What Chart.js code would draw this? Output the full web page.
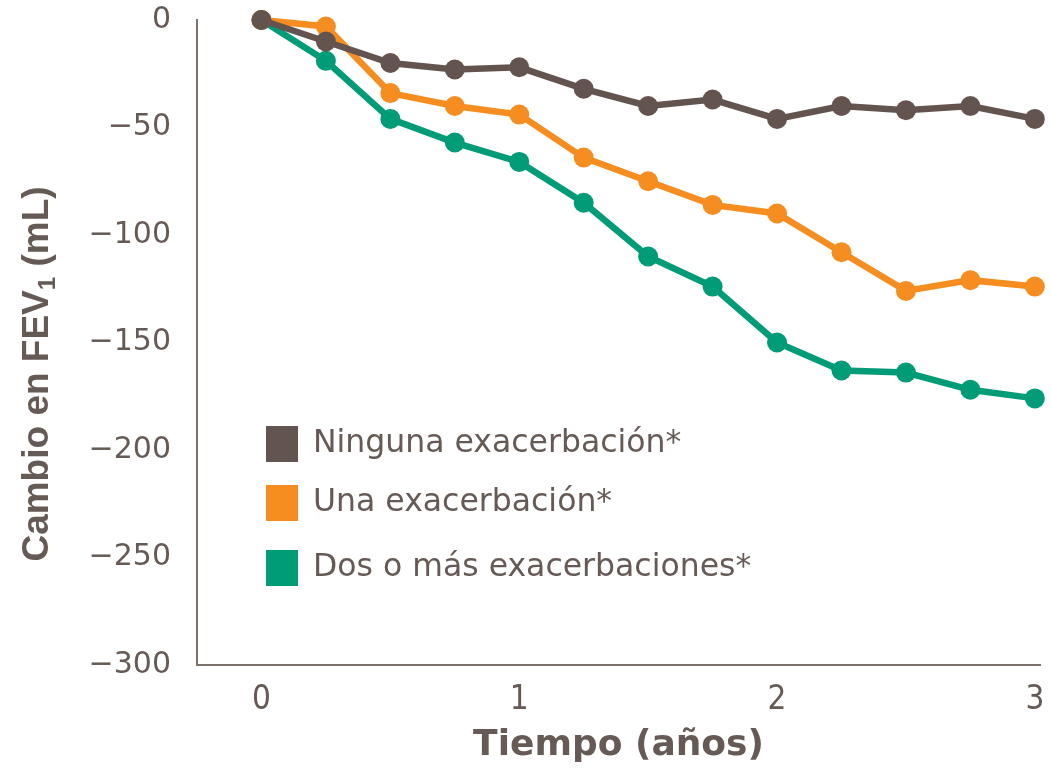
<!DOCTYPE html>
<html>
<head>
<meta charset="utf-8">
<script src="https://cdn.jsdelivr.net/npm/chart.js@4"></script>
<style>
  html, body { margin: 0; padding: 0; background: #fff; }
  #wrap { width: 1051px; height: 769px; position: relative; }
</style>
</head>
<body>
<div id="wrap"><canvas id="fevChart" width="1051" height="769"></canvas></div>
<script>
// years since baseline
const years = [0, 0.25, 0.5, 0.75, 1, 1.25, 1.5, 1.75, 2, 2.25, 2.5, 2.75, 3];

const ninguna = [0, -10, -20, -23, -22, -32, -40, -37, -46, -40, -42, -40, -46];
const una = [0, -3, -34, -40, -44, -64, -75, -86, -90, -108, -126, -121, -124];
const dosOMas = [0, -19, -46, -57, -66, -85, -110, -124, -150, -163, -164, -172, -176];

const seriesLabels = ["Ninguna exacerbación*", "Una exacerbación*", "Dos o más exacerbaciones*"];
const seriesColors = ["#63544f", "#f68d20", "#009b77"];
const yTicks = [-300, -250, -200, -150, -100, -50, 0];
const xTicks = [0, 1, 2, 3];

const textColor = "#655a55";
const axisColor = "#7d716b";

function toPoints(vals) {
  return years.map((x, i) => ({ x: x, y: vals[i] }));
}

const allSeries = [ninguna, una, dosOMas];
const datasets = allSeries.map((vals, i) => ({
  label: seriesLabels[i],
  data: toPoints(vals),
  borderColor: seriesColors[i],
  backgroundColor: seriesColors[i],
  pointBackgroundColor: seriesColors[i],
  pointBorderWidth: 0,
  borderWidth: 6.5,
  pointRadius: 10,
  tension: 0,
  clip: false
}));

// legend inside the plot + y title with subscript 1
const extras = {
  id: "extras",
  afterDatasetsDraw(chart) {
    const ctx = chart.ctx;
    const rows = [444, 503, 568];
    ctx.save();
    ctx.font = "31.5px 'DejaVu Sans'";
    ctx.textBaseline = "middle";
    seriesLabels.forEach((lab, i) => {
      ctx.fillStyle = seriesColors[i];
      ctx.fillRect(266, rows[i] - 18, 32, 36);
      ctx.fillStyle = textColor;
      ctx.fillText(lab, 313, rows[i]);
    });
    ctx.restore();

    // vertical axis title
    ctx.save();
    ctx.translate(48, 374);
    ctx.rotate(-Math.PI / 2);
    ctx.fillStyle = textColor;
    ctx.textBaseline = "alphabetic";
    const big = "bold 37px 'Liberation Sans', Arial, sans-serif";
    const small = "bold 24px 'Liberation Sans', Arial, sans-serif";
    const parts = [["Cambio en FEV", big, 0], ["1", small, 7], [" (mL)", big, 0]];
    let total = 0;
    parts.forEach(p => { ctx.font = p[1]; total += ctx.measureText(p[0]).width; });
    let x = -total / 2;
    parts.forEach(p => {
      ctx.font = p[1];
      ctx.fillText(p[0], x, p[2]);
      x += ctx.measureText(p[0]).width;
    });
    ctx.restore();
  }
};

new Chart(document.getElementById("fevChart").getContext("2d"), {
  type: "line",
  data: { datasets: datasets },
  plugins: [extras],
  options: {
    responsive: false,
    animation: false,
    layout: { padding: { top: 20, right: 11, left: 0, bottom: 0 } },
    plugins: {
      legend: { display: false },
      tooltip: { enabled: false }
    },
    scales: {
      x: {
        type: "linear",
        min: -0.25,
        max: 3.02,
        afterBuildTicks(scale) {
          scale.ticks = xTicks.map(v => ({ value: v }));
        },
        afterFit(scale) {
          scale.height = 104;
          scale.paddingLeft = 0;
          scale.paddingRight = 0;
        },
        grid: { display: false, drawTicks: false },
        border: { display: true, color: axisColor, width: 2 },
        ticks: {
          padding: 16,
          color: textColor,
          font: { family: "'DejaVu Sans Condensed', sans-serif", size: 33 }
        },
        title: {
          display: true,
          text: "Tiempo (años)",
          color: textColor,
          padding: { top: 0, bottom: 2 },
          font: { family: "'DejaVu Sans', sans-serif", size: 36, weight: "bold" }
        }
      },
      y: {
        min: -300,
        max: 0,
        afterBuildTicks(scale) {
          scale.ticks = yTicks.map(v => ({ value: v }));
        },
        afterFit(scale) {
          scale.width = 197;
          scale.paddingTop = 0;
          scale.paddingBottom = 0;
        },
        grid: { display: false, drawTicks: false },
        border: { display: true, color: axisColor, width: 2 },
        ticks: {
          padding: 26,
          color: textColor,
          font: { family: "'DejaVu Sans', sans-serif", size: 30 },
          callback: v => String(v).replace("-", "−")
        }
      }
    }
  }
});
</script>
</body>
</html>
